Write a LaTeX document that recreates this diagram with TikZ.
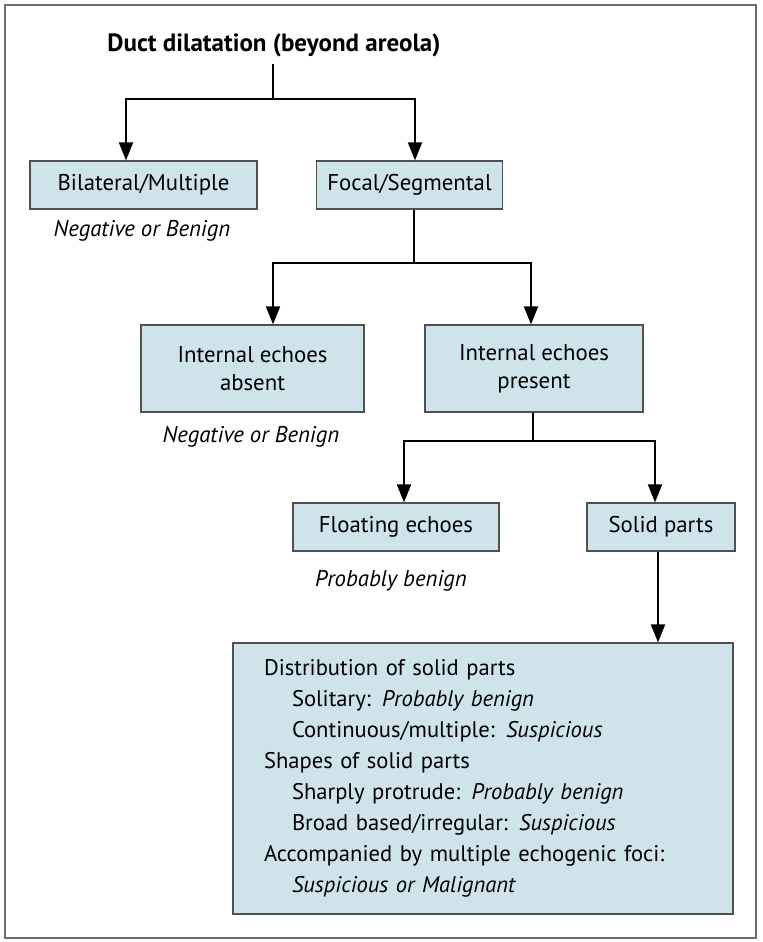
\documentclass[tikz,border=0pt]{standalone}
\usepackage{fontspec}
\setmainfont{PT Sans}
\usetikzlibrary{arrows.meta, positioning}
\definecolor{boxfill}{RGB}{206,228,234}
\definecolor{boxline}{RGB}{80,80,80}
\definecolor{frameline}{RGB}{110,110,110}

\begin{document}
\begin{tikzpicture}[x=0.5pt, y=-0.5pt,
        box/.style={draw=boxline, fill=boxfill, line width=0.6pt, inner sep=0pt, minimum height=24pt, align=center, font=\fontsize{11.4}{14}\selectfont},
        note/.style={font=\fontsize{11.4}{14}\selectfont\itshape},
        link/.style={line width=1pt},
        arr/.style={line width=1pt, -{Triangle[length=9pt, width=7pt]}}]
        \useasboundingbox (0,0) rectangle (762,942);
        \draw [frameline, line width=0.8pt] (5,5) rectangle (756,938);
        \node [font=\fontsize{12.5}{15}\selectfont\bfseries] (title) at (274,45) {Duct dilatation (beyond areola)};
        \node [box, minimum width=113.5pt] (bil) at (143.5,185) {Bilateral/Multiple};
        \node [box, minimum width=93pt] (foc) at (409.5,185) {Focal/Segmental};
        \node [note] (n1) at (142,231) {Negative or Benign};
        \node [box, minimum width=111.5pt, minimum height=43.5pt] (abs) at (252.5,368.5) {Internal echoes\\absent};
        \node [box, minimum width=109pt, minimum height=43.5pt] (pre) at (534,368.5) {Internal echoes\\present};
        \node [note] (n2) at (251,437) {Negative or Benign};
        \node [box, minimum width=103pt] (flo) at (396,527) {Floating echoes};
        \node [box, minimum width=74pt] (sol) at (661,527) {Solid parts};
        \node [note] (n3) at (391,581) {Probably benign};
        \node [box, text width=219pt, inner xsep=15.5pt, minimum height=135.5pt, align=left, font=\fontsize{11.3}{15.5}\selectfont] (det) at (483,778.5) {%
            Distribution of solid parts\\
            \hspace*{14pt}Solitary: \textit{Probably benign}\\
            \hspace*{14pt}Continuous/multiple: \textit{Suspicious}\\
            Shapes of solid parts\\
            \hspace*{14pt}Sharply protrude: \textit{Probably benign}\\
            \hspace*{14pt}Broad based/irregular: \textit{Suspicious}\\
            Accompanied by multiple echogenic foci:\\
            \hspace*{14pt}\textit{Suspicious or Malignant}};
        % junctions and arrow columns
        \coordinate (j1) at (273,99);
        \coordinate (j2) at (414,263);
        \coordinate (j3) at (533,441);
        \coordinate (c1) at (126,0);
        \coordinate (c2) at (415,0);
        \coordinate (c3) at (273,0);
        \coordinate (c4) at (531,0);
        \coordinate (c5) at (404,0);
        \coordinate (c6) at (655,0);
        \coordinate (c7) at (658,0);
        \draw [link] (title.south -| j1) -- (j1);
        \draw [arr] (j1) -| (bil.north -| c1);
        \draw [arr] (j1) -| (foc.north -| c2);
        \draw [link] (foc.south -| j2) -- (j2);
        \draw [arr] (j2) -| (abs.north -| c3);
        \draw [arr] (j2) -| (pre.north -| c4);
        \draw [link] (pre.south -| j3) -- (j3);
        \draw [arr] (j3) -| (flo.north -| c5);
        \draw [arr] (j3) -| (sol.north -| c6);
        \draw [arr] (sol.south -| c7) -- (det.north -| c7);
    \end{tikzpicture}
\end{document}
